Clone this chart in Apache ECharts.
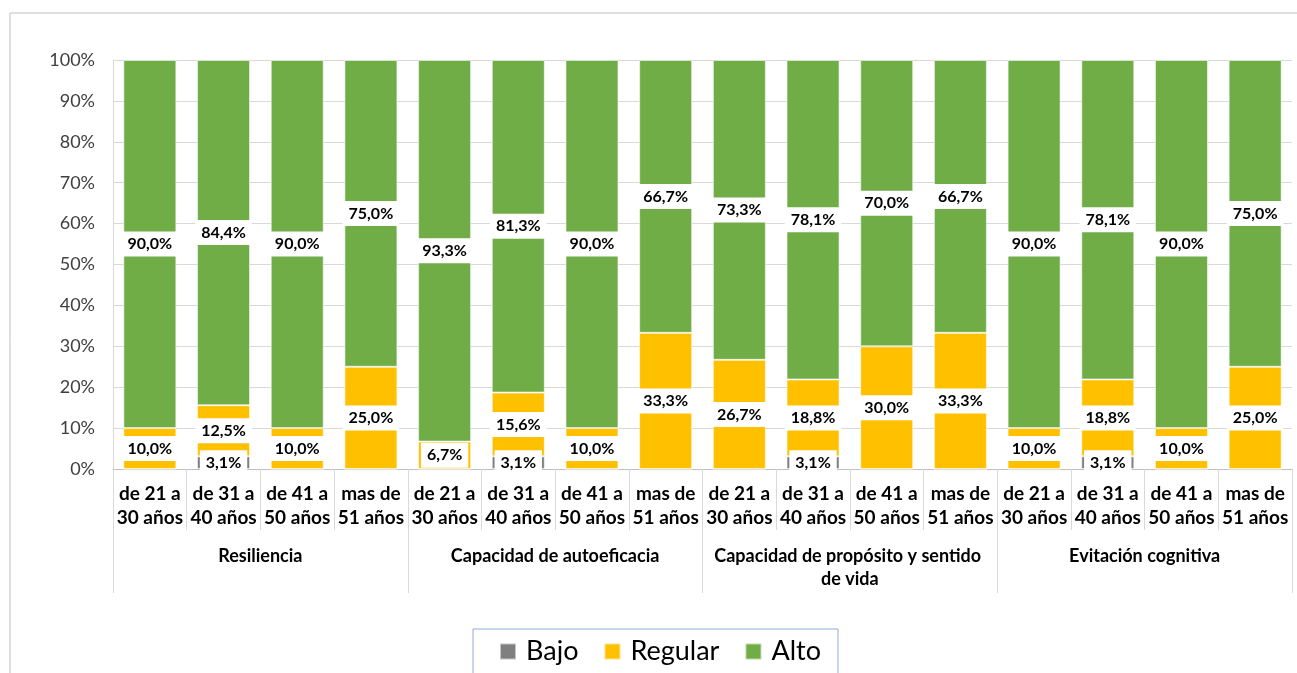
<!DOCTYPE html>
<html>
<head>
<meta charset="utf-8">
<script src="https://cdn.jsdelivr.net/npm/echarts@6/dist/echarts.min.js"></script>
<style>html,body{margin:0;padding:0;background:#fff}#c{width:1297px;height:673px}</style>
</head>
<body>
<div id="c"></div>
<script>
var ageLabels = ['de 21 a 30 años','de 31 a 40 años','de 41 a 50 años','mas de 51 años',
                 'de 21 a 30 años','de 31 a 40 años','de 41 a 50 años','mas de 51 años',
                 'de 21 a 30 años','de 31 a 40 años','de 41 a 50 años','mas de 51 años',
                 'de 21 a 30 años','de 31 a 40 años','de 41 a 50 años','mas de 51 años'];
var groupLabels = ['Resiliencia','Capacidad de autoeficacia','Capacidad de propósito y sentido de vida','Evitación cognitiva'];
var bajo    = [0, 3.1, 0, 0,   0, 3.1, 0, 0,     0, 3.1, 0, 0,     0, 3.1, 0, 0];
var regular = [10.0, 12.5, 10.0, 25.0,  6.7, 15.6, 10.0, 33.3,  26.7, 18.8, 30.0, 33.3,  10.0, 18.8, 10.0, 25.0];
var alto    = [90.0, 84.4, 90.0, 75.0,  93.3, 81.3, 90.0, 66.7,  73.3, 78.1, 70.0, 66.7,  90.0, 78.1, 90.0, 75.0];
var yTicks = [0,10,20,30,40,50,60,70,80,90,100];

var FONT = 'Lato, "Open Sans", sans-serif';
function items(arr){
  return arr.map(function(v){ return {value: v, label: {show: v > 0}}; });
}
function fmt(p){ return p.value.toFixed(1).replace('.', ',') + '%'; }
var labelStyle = {
  show: true, position: 'inside', formatter: fmt,
  color: '#000', fontFamily: FONT, fontWeight: 'bold', fontSize: 16, lineHeight: 14,
  backgroundColor: '#fff', padding: [6, 6, 5, 6]
};
function mk(name, data, color){
  return {
    name: name, type: 'bar', stack: 'total', xAxisIndex: 0, barWidth: 53,
    data: items(data),
    itemStyle: {color: color, borderColor: 'rgba(255,255,255,0.55)', borderWidth: 1},
    label: labelStyle
  };
}

var chart = echarts.init(document.getElementById('c'));
chart.setOption({
  animation: false,
  graphic: [{
    type: 'rect', shape: {x: 10, y: 13, width: 1400, height: 800},
    style: {fill: 'none', stroke: '#bfbfbf', lineWidth: 1}, z: -10
  }],
  grid: {left: 113, right: 5, top: 60, bottom: 204},
  legend: {
    data: ['Bajo','Regular','Alto'],
    left: 473, top: 629,
    padding: [9, 17, 9, 26],
    itemGap: 25, itemWidth: 16, itemHeight: 16, icon: 'rect',
    borderColor: '#8faadc', borderWidth: 1,
    textStyle: {fontFamily: FONT, fontSize: 27, color: '#000', padding: [0,0,0,5]}
  },
  xAxis: [{
    type: 'category', data: ageLabels, position: 'bottom',
    axisLine: {show: true, lineStyle: {color: '#bfbfbf'}},
    axisTick: {show: true, length: 61, lineStyle: {color: '#d9d9d9'}},
    axisLabel: {
      interval: 0, margin: 13, color: '#000', fontFamily: FONT, fontWeight: 'bold',
      fontSize: 19, lineHeight: 24,
      formatter: function(v){ return v.replace(/ (\d+ años)$/, '\n$1'); }
    }
  }, {
    type: 'category', data: groupLabels, position: 'bottom',
    axisLine: {show: false},
    axisTick: {show: true, length: 124, lineStyle: {color: '#d9d9d9'}},
    axisLabel: {
      interval: 0, margin: 76, color: '#000', fontFamily: FONT, fontWeight: 'bold',
      fontSize: 18, lineHeight: 23, width: 290, overflow: 'break'
    }
  }],
  yAxis: {
    type: 'value', min: 0, max: 100, interval: 10,
    axisLine: {show: true, lineStyle: {color: '#d9d9d9'}},
    axisTick: {show: false},
    splitLine: {lineStyle: {color: '#d9d9d9'}},
    axisLabel: {formatter: '{value}%', margin: 18, color: '#404040', fontFamily: FONT, fontSize: 18}
  },
  series: [
    mk('Bajo', bajo, '#7f7f7f'),
    mk('Regular', regular, '#ffc000'),
    mk('Alto', alto, '#70ad47')
  ]
});
</script>
</body>
</html>
